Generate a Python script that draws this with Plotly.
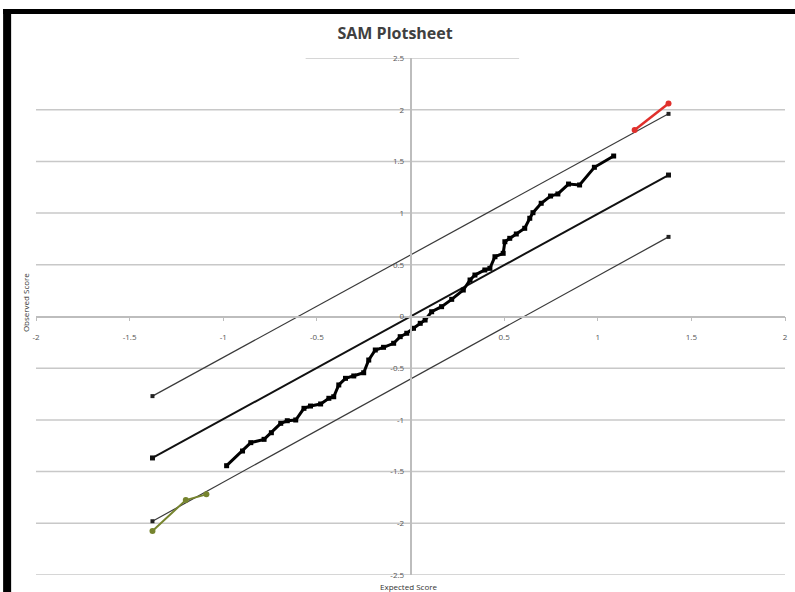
import plotly.graph_objects as go

# ---------------- data ----------------
X_TICKS = [-2, -1.5, -1, -0.5, 0, 0.5, 1, 1.5, 2]
X_TICK_LABELS = ["-2", "-1.5", "-1", "-0.5", "", "0.5", "1", "1.5", "2"]
Y_TICKS = [-2.5, -2, -1.5, -1, -0.5, 0, 0.5, 1, 1.5, 2, 2.5]
Y_TICK_LABELS = ["-2.5", "-2", "-1.5", "-1", "-0.5", "0", "0.5", "1", "1.5", "2", "2.5"]

obs_x = [-0.982, -0.897, -0.853, -0.782, -0.743, -0.693, -0.658, -0.613, -0.569, -0.534,
         -0.480, -0.436, -0.410, -0.383, -0.347, -0.303, -0.250, -0.223, -0.188, -0.144,
         -0.090, -0.055, -0.020, 0.016, 0.052, 0.078, 0.113, 0.166, 0.220, 0.282,
         0.318, 0.344, 0.397, 0.424, 0.451, 0.495, 0.504, 0.530, 0.565, 0.610,
         0.637, 0.654, 0.698, 0.748, 0.787, 0.844, 0.903, 0.982, 1.085]
obs_y = [-1.443, -1.301, -1.220, -1.188, -1.124, -1.033, -1.008, -1.001, -0.888, -0.866,
         -0.846, -0.791, -0.776, -0.662, -0.598, -0.575, -0.544, -0.421, -0.324, -0.298,
         -0.259, -0.195, -0.162, -0.114, -0.066, -0.034, 0.046, 0.095, 0.166, 0.256,
         0.353, 0.401, 0.450, 0.466, 0.578, 0.611, 0.723, 0.756, 0.798, 0.853,
         0.950, 1.004, 1.095, 1.165, 1.185, 1.281, 1.272, 1.443, 1.552]

center_x = [-1.378, 1.378]
center_y = [-1.368, 1.368]
upper_x = [-1.378, 1.378]
upper_y = [-0.77, 1.96]
lower_x = [-1.378, 1.378]
lower_y = [-1.98, 0.77]
sig_up_x = [1.197, 1.378]
sig_up_y = [1.803, 2.06]
sig_down_x = [-1.378, -1.20, -1.09]
sig_down_y = [-2.075, -1.775, -1.72]

TITLE = "SAM Plotsheet"
X_TITLE = "Expected Score"
Y_TITLE = "Observed Score"

# ---------------- figure ----------------
fig = go.Figure()

fig.add_trace(go.Scatter(x=upper_x, y=upper_y, mode="lines+markers",
                         line=dict(color="#3a3a3a", width=1.2),
                         marker=dict(symbol="square", size=4, color="#222222"),
                         showlegend=False, hoverinfo="skip"))
fig.add_trace(go.Scatter(x=lower_x, y=lower_y, mode="lines+markers",
                         line=dict(color="#3a3a3a", width=1.2),
                         marker=dict(symbol="square", size=4, color="#222222"),
                         showlegend=False, hoverinfo="skip"))
fig.add_trace(go.Scatter(x=center_x, y=center_y, mode="lines+markers",
                         line=dict(color="#111111", width=2),
                         marker=dict(symbol="square", size=5, color="#111111"),
                         showlegend=False, hoverinfo="skip"))
fig.add_trace(go.Scatter(x=obs_x, y=obs_y, mode="lines+markers",
                         line=dict(color="#000000", width=3),
                         marker=dict(symbol="square", size=5, color="#000000"),
                         showlegend=False))
fig.add_trace(go.Scatter(x=sig_up_x, y=sig_up_y, mode="lines+markers",
                         line=dict(color="#e0302c", width=2.5),
                         marker=dict(symbol="circle", size=6, color="#e0302c"),
                         showlegend=False))
fig.add_trace(go.Scatter(x=sig_down_x, y=sig_down_y, mode="lines+markers",
                         line=dict(color="#76842e", width=2),
                         marker=dict(symbol="circle", size=6, color="#76842e"),
                         showlegend=False))

GRID = "#c8c8c8"
shapes = []
for v in Y_TICKS:
    if v == 2.5:
        shapes.append(dict(type="line", xref="x", yref="y", x0=-0.56, x1=0.58, y0=v, y1=v,
                           line=dict(color=GRID, width=1.5), layer="below"))
    elif v == 0:
        continue
    else:
        shapes.append(dict(type="line", xref="paper", yref="y", x0=0, x1=1, y0=v, y1=v,
                           line=dict(color=GRID, width=1.5), layer="below"))

# black picture frame (left and top)
shapes.append(dict(type="rect", xref="paper", yref="paper", x0=-0.0439, x1=-0.0332,
                   y0=-0.05, y1=1.0948, fillcolor="black", line=dict(width=0), layer="above"))
shapes.append(dict(type="rect", xref="paper", yref="paper", x0=-0.0439, x1=1.02,
                   y0=1.0851, y1=1.0948, fillcolor="black", line=dict(width=0), layer="above"))

annotations = [
    dict(text=X_TITLE, xref="paper", yref="paper", x=0.497, y=-0.0225,
         showarrow=False, font=dict(size=8, color="#333333", family="Open Sans"),
         xanchor="center", yanchor="middle"),
    dict(text=Y_TITLE, xref="paper", yref="paper", x=-0.0146, y=0.526, textangle=-90,
         showarrow=False, font=dict(size=8, color="#333333", family="Open Sans"),
         xanchor="center", yanchor="middle"),
]

fig.update_layout(
    width=795, height=592,
    margin=dict(l=36, r=7, t=58, b=17),
    paper_bgcolor="white", plot_bgcolor="white",
    title=dict(text="<b>" + TITLE + "</b>", x=0.497, xref="container", xanchor="center",
               y=1 - 33 / 592, yref="container", yanchor="middle",
               font=dict(size=16, color="#404040", family="Open Sans")),
    shapes=shapes, annotations=annotations,
    xaxis=dict(range=[-2, 2], tickvals=X_TICKS, ticktext=X_TICK_LABELS,
               showgrid=False, zeroline=False, showline=True, linecolor="#bdbdbd",
               linewidth=1.5, anchor="free", position=0.5, ticks="outside", ticklen=4,
               tickcolor="#bdbdbd", ticklabelstandoff=9,
               tickfont=dict(size=8, color="#555555", family="Open Sans")),
    yaxis=dict(range=[-2.5, 2.5], tickvals=Y_TICKS, ticktext=Y_TICK_LABELS,
               showgrid=False, zeroline=False, showline=True, linecolor="#bdbdbd",
               linewidth=1.5, anchor="free", position=0.5, ticks="",
               ticklabelstandoff=4,
               tickfont=dict(size=8, color="#555555", family="Open Sans")),
)

fig.write_html("out.html")
